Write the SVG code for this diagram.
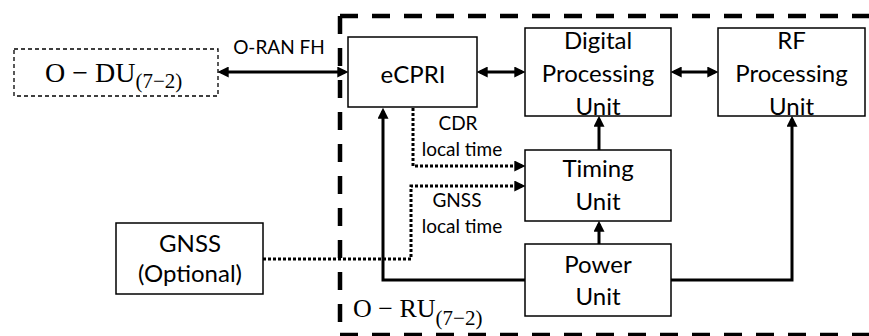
<svg xmlns="http://www.w3.org/2000/svg" width="869" height="336" viewBox="0 0 869 336">
<style>
.box{fill:#fff;stroke:#000;stroke-width:1.5}
.du{fill:#fff;stroke:#000;stroke-width:1.3;stroke-dasharray:4 3}
.lbl{font-family:Lato,"Open Sans",sans-serif;font-size:24px;fill:#000;text-anchor:middle}
.sm{font-family:Lato,"Open Sans",sans-serif;font-size:19px;fill:#000;text-anchor:middle}
.math{font-family:"Liberation Serif","DejaVu Serif",serif;fill:#000}
.solid{fill:none;stroke:#000;stroke-width:3}
.dot{fill:none;stroke:#000;stroke-width:3;stroke-dasharray:3 2}
.cont{fill:none;stroke:#000;stroke-width:4.5;stroke-dasharray:18 14}
</style>
<defs>
<marker id="arr" viewBox="0 0 10 10" markerUnits="userSpaceOnUse" markerWidth="11" markerHeight="11" refX="7" refY="5" orient="auto-start-reverse">
<path d="M0,0 L10,5 L0,10 z" fill="#000"/>
</marker>
</defs>
<rect width="869" height="336" fill="#fff"/>

<g id="oru-container">
<path class="cont" d="M340,16 H880"/>
<path class="cont" d="M340,16 V336"/>
<path class="cont" d="M340,335 H880"/>
<text class="math" x="353" y="317" font-size="26">O − RU<tspan font-size="21" dy="8">(7−2)</tspan></text>
</g>

<g id="connectors">
<path class="solid" d="M221,72 H345" marker-start="url(#arr)" marker-end="url(#arr)"/>
<text class="sm" x="279" y="54">O-RAN FH</text>
<path class="solid" d="M480,72 H522" marker-start="url(#arr)" marker-end="url(#arr)"/>
<path class="solid" d="M674,72 H715" marker-start="url(#arr)" marker-end="url(#arr)"/>
<path class="solid" d="M599,150 V119" marker-end="url(#arr)"/>
<path class="solid" d="M599,244 V224" marker-end="url(#arr)"/>
<path class="solid" d="M525,280 H383 V111" marker-end="url(#arr)"/>
<path class="solid" d="M671,280 H792 V119" marker-end="url(#arr)"/>
<path class="dot" d="M413,108 V166 H522" marker-end="url(#arr)"/>
<path class="dot" d="M263,259 H411 V186 H522" marker-end="url(#arr)"/>
<text class="sm" x="458" y="130">CDR</text>
<text class="sm" x="462" y="156">local time</text>
<text class="sm" x="457" y="207">GNSS</text>
<text class="sm" x="462" y="233">local time</text>
</g>

<g id="odu">
<rect class="du" x="14" y="49" width="204" height="47"/>
<text class="math" x="45" y="82" font-size="28">O − DU<tspan font-size="21" dy="6">(7−2)</tspan></text>
</g>

<g id="ecpri">
<rect class="box" x="348" y="37" width="129" height="70"/>
<text class="lbl" x="413" y="83">eCPRI</text>
</g>

<g id="dpu">
<rect class="box" x="525" y="28" width="146" height="88"/>
<text class="lbl" x="598" y="49">Digital</text>
<text class="lbl" x="598" y="82">Processing</text>
<text class="lbl" x="598" y="115">Unit</text>
</g>

<g id="rfpu">
<rect class="box" x="718" y="28" width="147" height="88"/>
<text class="lbl" x="791.5" y="49">RF</text>
<text class="lbl" x="791.5" y="82">Processing</text>
<text class="lbl" x="791.5" y="115">Unit</text>
</g>

<g id="timing">
<rect class="box" x="525" y="150" width="146" height="71"/>
<text class="lbl" x="598" y="177">Timing</text>
<text class="lbl" x="598" y="210">Unit</text>
</g>

<g id="power">
<rect class="box" x="525" y="244" width="146" height="72"/>
<text class="lbl" x="598" y="273">Power</text>
<text class="lbl" x="598" y="305">Unit</text>
</g>

<g id="gnss">
<rect class="box" x="116" y="223" width="147" height="71"/>
<text class="lbl" x="190" y="252">GNSS</text>
<text class="lbl" x="190" y="282">(Optional)</text>
</g>
</svg>
